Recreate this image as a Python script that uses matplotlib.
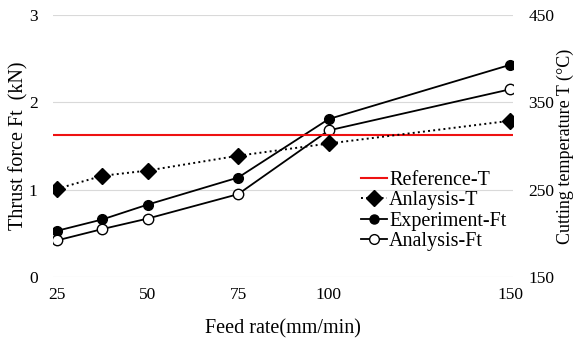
import matplotlib.pyplot as plt
from matplotlib.lines import Line2D

# datos
feed_rate = [25, 37.5, 50, 75, 100, 150]
experiment_ft = [0.53, 0.66, 0.83, 1.14, 1.81, 2.43]
analysis_ft = [0.42, 0.55, 0.67, 0.95, 1.68, 2.15]
analysis_t = [251, 266, 272, 289, 303, 329]
reference_t = 313

x_ticks = [25, 50, 75, 100, 150]
ft_ticks = [0, 1, 2, 3]
t_ticks = [150, 250, 350, 450]

plt.rcParams['font.family'] = ['Liberation Serif', 'DejaVu Serif']

fig = plt.figure(figsize=(5.75, 3.43), dpi=100)
ax = fig.add_axes([0.092, 0.192, 0.8, 0.764])
ax2 = ax.twinx()

ax.plot(feed_rate, experiment_ft, color='black', lw=1.3, marker='o',
        markersize=7, markerfacecolor='black', zorder=3)
ax.plot(feed_rate, analysis_ft, color='black', lw=1.3, marker='o',
        markersize=7.5, markerfacecolor='white', markeredgewidth=1.0, zorder=3)
ax2.plot(feed_rate, analysis_t, color='black', lw=1.4, linestyle=':',
         marker='D', markersize=8.5, markerfacecolor='black', zorder=3)
ax2.axhline(reference_t, color='#ee1111', lw=1.5, zorder=2)

ax.set_xlim(23.9, 150.8)
ax.set_ylim(0, 3)
ax2.set_ylim(150, 450)
ax.set_xticks(x_ticks)
ax.set_yticks(ft_ticks)
ax2.set_yticks(t_ticks)
ax.grid(axis='y', color='#d9d9d9', lw=0.8)
ax.set_axisbelow(True)

for a in (ax, ax2):
    for s in a.spines.values():
        s.set_visible(False)
    a.tick_params(length=0, labelsize=12.5)
ax.tick_params(axis='y', pad=11)
ax.tick_params(axis='x', pad=7)
ax2.tick_params(axis='y', pad=11)

ax.set_xlabel('Feed rate(mm/min)', fontsize=14.5, labelpad=12)
ax.set_ylabel('Thrust force Ft  (kN)', fontsize=14.5, labelpad=0)
ax2.set_ylabel('Cutting temperature T (°C)', fontsize=13, labelpad=2)

handles = [
    Line2D([], [], color='#ee1111', lw=1.5),
    Line2D([], [], color='black', lw=1.4, linestyle=':', marker='D',
           markersize=8, markerfacecolor='black'),
    Line2D([], [], color='black', lw=1.3, marker='o', markersize=6.5,
           markerfacecolor='black'),
    Line2D([], [], color='black', lw=1.3, marker='o', markersize=7,
           markerfacecolor='white'),
]
labels = ['Reference-T', 'Anlaysis-T', 'Experiment-Ft', 'Analysis-Ft']
fig.legend(handles, labels, loc='upper left', bbox_to_anchor=(0.61, 0.53),
           frameon=False, fontsize=14.5, handlelength=1.3, handletextpad=0.1,
           labelspacing=0.05, borderpad=0)

fig.savefig('out.png', dpi=100)
